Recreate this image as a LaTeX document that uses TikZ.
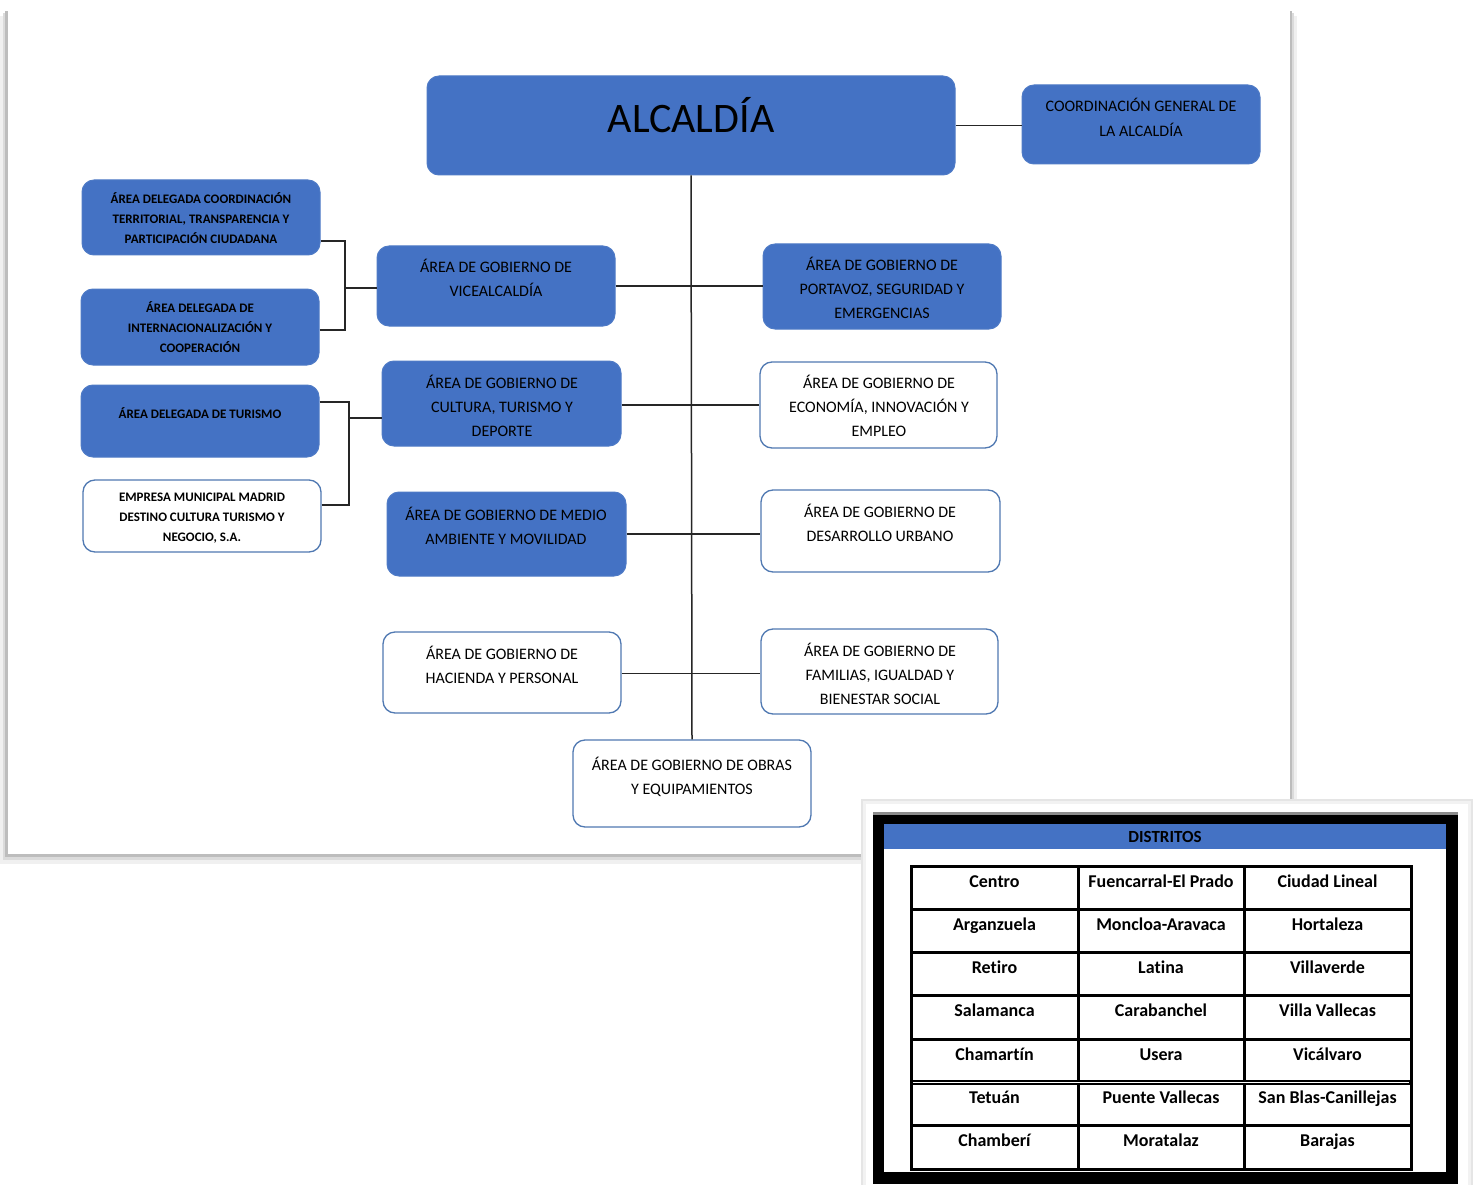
\documentclass[tikz,border=0pt]{standalone}
\usepackage{fontspec}
\setmainfont[Ligatures=NoCommon]{Carlito}
\usetikzlibrary{calc}
\definecolor{boxblue}{HTML}{4472C4}
\definecolor{blueedge}{HTML}{4F7BC6}
\definecolor{whiteedge}{HTML}{5079B2}
\newcommand{\obox}[6]{\node[#2, minimum width=#5pt-#3pt, minimum height=#6pt-#4pt] (#1) at ({(#3+#5)/2},{(#4+#6)/2}) {};}
\newcommand{\mtext}[4]{\node[tm] (#1) at (#2,{#3-11.7}) {\strut #4};}
\newcommand{\stext}[4]{\node[ts] (#1) at (#2,{#3-9.8}) {\strut #4};}
\begin{document}
\begin{tikzpicture}[x=1pt,y=-1pt,
  bluebox/.style={draw=blueedge, fill=boxblue, rounded corners=12pt, line width=1pt, inner sep=0pt},
  whitebox/.style={draw=whiteedge, fill=white, rounded corners=12pt, line width=1.3pt, inner sep=0pt},
  tm/.style={font=\fontsize{16}{24}\selectfont, align=center, anchor=north, inner sep=0pt, text=black},
  ts/.style={font=\bfseries\fontsize{13}{20}\selectfont, align=center, anchor=north, inner sep=0pt, text=black},
  conn/.style={draw=black!85, line width=1.5pt},
  cell/.style={font=\bfseries\fontsize{18}{22}\selectfont, anchor=base, inner sep=0pt, text=black}]
\useasboundingbox (0,0) rectangle (1473,1185);
\fill[white] (0,0) rectangle (1473,1185);
% main page with shadow
\fill[black!6] (0,16) rectangle (1297,864);
\fill[black!14] (3,13) rectangle (1294,860);
\fill[black!26] (5,11) rectangle (1292,857);
\fill[white] (8,10) rectangle (1290,854);

% boxes
\obox{alc}{bluebox}{427}{76}{955}{175}
\obox{coord}{bluebox}{1022}{85}{1260}{164}
\obox{adct}{bluebox}{82}{180}{320}{255}
\obox{adi}{bluebox}{81}{289}{319}{365}
\obox{adt}{bluebox}{81}{385}{319}{457}
\obox{emp}{whitebox}{83}{480}{321}{552}
\obox{vice}{bluebox}{377}{246}{615}{326}
\obox{cult}{bluebox}{382}{361}{621}{446}
\obox{medio}{bluebox}{387}{492}{626}{576}
\obox{hac}{whitebox}{383}{632}{621}{713}
\obox{porta}{bluebox}{763}{244}{1001}{329}
\obox{econ}{whitebox}{760}{362}{997}{448}
\obox{desa}{whitebox}{761}{490}{1000}{572}
\obox{fam}{whitebox}{761}{629}{998}{714}
\obox{obras}{whitebox}{573}{740}{811}{827}

% connectors
\draw[conn] (alc.south) -- (obras.north);
\draw[conn] (alc.east) -- (alc.east -| coord.west);
\draw[conn] (vice.east) -- (vice.east -| porta.west);
\draw[conn] ([yshift=-1.5pt]cult.east) -- ([yshift=-1.5pt]cult.east -| econ.west);
\draw[conn] (medio.east) -- (medio.east -| desa.west);
\draw[conn] ([yshift=-1pt]hac.east) -- ([yshift=-1pt]hac.east -| fam.west);
\coordinate (j1) at (345,288);
\coordinate (j2) at (349,418);
\draw[conn] ([yshift=-23.5pt]adct.east) -| (j1);
\draw[conn] ([yshift=-3pt]adi.east) -| (j1);
\draw[conn] (j1) -- (vice.west |- j1);
\draw[conn] ([yshift=19pt]adt.east) -| (j2);
\draw[conn] ([yshift=11pt]emp.east) -| (j2);
\draw[conn] (j2) -- (cult.west |- j2);

% texts
\node[font=\fontsize{42}{48}\selectfont, anchor=base, inner sep=0pt, text=black] (alc-t) at (691,133) {ALCALDÍA};
\node[font=\fontsize{16}{25}\selectfont, align=center, anchor=north, inner sep=0pt, text=black] (coord-t) at (1141,{106-12.2}) {\strut COORDINACIÓN GENERAL DE\\LA ALCALDÍA};
\stext{adct-t}{201}{199}{ÁREA DELEGADA COORDINACIÓN\\TERRITORIAL, TRANSPARENCIA Y\\PARTICIPACIÓN CIUDADANA}
\stext{adi-t}{200}{308}{ÁREA DELEGADA DE\\INTERNACIONALIZACIÓN Y\\COOPERACIÓN}
\stext{adt-t}{200}{414}{ÁREA DELEGADA DE TURISMO}
\stext{emp-t}{202}{497}{EMPRESA MUNICIPAL MADRID\\DESTINO CULTURA TURISMO Y\\NEGOCIO, S.A.}
\mtext{vice-t}{496}{267}{ÁREA DE GOBIERNO DE\\VICEALCALDÍA}
\mtext{cult-t}{502}{383}{ÁREA DE GOBIERNO DE\\CULTURA, TURISMO Y\\DEPORTE}
\mtext{medio-t}{506}{515}{ÁREA DE GOBIERNO DE MEDIO\\AMBIENTE Y MOVILIDAD}
\mtext{hac-t}{502}{654}{ÁREA DE GOBIERNO DE\\HACIENDA Y PERSONAL}
\mtext{porta-t}{882}{265}{ÁREA DE GOBIERNO DE\\PORTAVOZ, SEGURIDAD Y\\EMERGENCIAS}
\mtext{econ-t}{879}{383}{ÁREA DE GOBIERNO DE\\ECONOMÍA, INNOVACIÓN Y\\EMPLEO}
\mtext{desa-t}{880}{512}{ÁREA DE GOBIERNO DE\\DESARROLLO URBANO}
\mtext{fam-t}{880}{651}{ÁREA DE GOBIERNO DE\\FAMILIAS, IGUALDAD Y\\BIENESTAR SOCIAL}
\mtext{obras-t}{692}{765}{ÁREA DE GOBIERNO DE OBRAS\\Y EQUIPAMIENTOS}

% districts table panel
\fill[black!10] (861,799) rectangle (1473,1185);
\fill[black!5] (863,801) rectangle (1471,1185);
\fill[white] (866,804) rectangle (1468,1185);
\fill[black] (873,812) rectangle (1458,1184);
\fill[black!45] (873,812) rectangle (1458,814.5);
\fill[white] (884,824) rectangle (1446,1172);
\fill[boxblue] (884,824) rectangle (1446,849);
\node[font=\bfseries\fontsize{17}{20}\selectfont, anchor=base, inner sep=0pt, text=black] (dist) at (1165,842.5) {DISTRITOS};
\draw[line width=3pt] (911,866) rectangle (1411,1169);
\draw[line width=3pt] (1078,866) -- (1078,1169);
\draw[line width=3pt] (1244,866) -- (1244,1169);
\foreach \i in {1,2,3,4,6}{
  \draw[line width=3pt] (911,{866+43.29*\i}) -- (1411,{866+43.29*\i});
}
\draw[line width=4.5pt] (911,{866+43.29*5}) -- (1411,{866+43.29*5});
\draw[white, line width=1pt] (913,{866+43.29*5}) -- (1409,{866+43.29*5});
\foreach \a/\b/\c [count=\r] in {Centro/Fuencarral-El Prado/Ciudad Lineal,
  Arganzuela/Moncloa-Aravaca/Hortaleza,
  Retiro/Latina/Villaverde,
  Salamanca/Carabanchel/Villa Vallecas,
  Chamartín/Usera/Vicálvaro,
  Tetuán/Puente Vallecas/San Blas-Canillejas,
  Chamberí/Moratalaz/Barajas}{
  \node[cell] (c\r-1) at (994.5,{866+43.29*(\r-1)+21}) {\a};
  \node[cell] (c\r-2) at (1161,{866+43.29*(\r-1)+21}) {\b};
  \node[cell] (c\r-3) at (1327.5,{866+43.29*(\r-1)+21}) {\c};
}
\end{tikzpicture}
\end{document}
